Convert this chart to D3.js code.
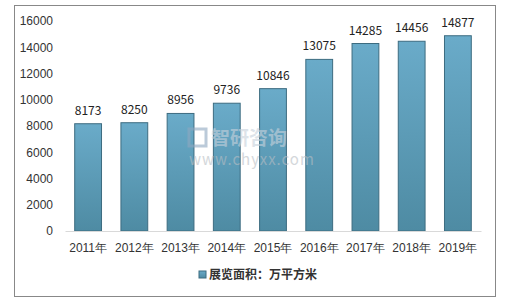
<!DOCTYPE html>
<meta charset="utf-8">
<style>
  body { margin: 0; background: #fff; }
  svg { display: block; font-family: "Microsoft YaHei", "Noto Sans CJK SC", sans-serif; }
  .axis text { fill: #333; font-size: 12px; }
</style>
<body></body>
<script src="https://d3js.org/d3.v7.min.js"></script>
<script>

var years = ["2011年", "2012年", "2013年", "2014年", "2015年", "2016年", "2017年", "2018年", "2019年"];
var area = [8173, 8250, 8956, 9736, 10846, 13075, 14285, 14456, 14877];
var yTicks = [0, 2000, 4000, 6000, 8000, 10000, 12000, 14000, 16000];
var seriesName = "展览面积：万平方米";

var W = 507, H = 302;
var margin = {top: 21, right: 26, bottom: 71, left: 65};
var width = W - margin.left - margin.right,
    height = H - margin.top - margin.bottom;

var svg = d3.select("body").append("svg")
    .attr("width", W)
    .attr("height", H);

// outer frame
svg.append("rect")
    .attr("x", 14.5).attr("y", 5.5)
    .attr("width", 481).attr("height", 291)
    .attr("fill", "#fff")
    .attr("stroke", "#888");

var defs = svg.append("defs");
var grad = defs.append("linearGradient")
    .attr("id", "barGrad")
    .attr("x1", 0).attr("y1", 0).attr("x2", 0).attr("y2", 1);
grad.append("stop").attr("offset", "0%").attr("stop-color", "#6aabc9");
grad.append("stop").attr("offset", "100%").attr("stop-color", "#4e8ba3");

var g = svg.append("g")
    .attr("transform", "translate(" + margin.left + "," + margin.top + ")");

var xScale = d3.scaleBand()
    .domain(years)
    .range([0, width])
    .paddingInner(0.42)
    .paddingOuter(0.21);

var yScale = d3.scaleLinear()
    .domain([0, 16000])
    .range([height, 0]);

// y axis labels (no line)
var yAxis = g.append("g")
    .attr("class", "axis")
    .call(d3.axisLeft(yScale).tickValues(yTicks).tickFormat(d3.format("d")).tickSize(0).tickPadding(12));
yAxis.select(".domain").remove();

// bars
g.selectAll(".bar")
    .data(area)
    .enter().append("rect")
    .attr("class", "bar")
    .attr("x", function(d, i) { return xScale(years[i]); })
    .attr("y", function(d) { return yScale(d); })
    .attr("width", xScale.bandwidth())
    .attr("height", function(d) { return height - yScale(d); })
    .attr("fill", "url(#barGrad)")
    .attr("stroke", "#3d6c80")
    .attr("stroke-width", 1);

// value labels
g.selectAll(".val")
    .data(area)
    .enter().append("text")
    .attr("class", "val")
    .attr("x", function(d, i) { return xScale(years[i]) + xScale.bandwidth() / 2; })
    .attr("y", function(d) { return yScale(d) - 9; })
    .attr("text-anchor", "middle")
    .attr("fill", "#222")
    .style("font-size", "12px")
    .text(function(d) { return d; });

// x axis
var xAxis = g.append("g")
    .attr("class", "axis")
    .attr("transform", "translate(0," + height + ")")
    .call(d3.axisBottom(xScale).tickSize(0).tickPadding(12));
xAxis.select(".domain").attr("stroke", "#d9d9d9");

// watermark on top
var wm = svg.append("g").attr("opacity", 0.6);
wm.append("rect")
    .attr("x", 189).attr("y", 129)
    .attr("width", 17).attr("height", 17)
    .attr("fill", "none").attr("stroke", "#8fa8c0").attr("stroke-width", 3);
wm.append("text")
    .attr("x", 211).attr("y", 145)
    .attr("fill", "#c8d2dc")
    .style("font-size", "19px").style("font-weight", "bold")
    .text("智研咨询");
wm.append("text")
    .attr("x", 189).attr("y", 165)
    .attr("fill", "#b8bec4")
    .style("font-size", "15px").style("letter-spacing", "1px")
    .text("www.chyxx.com");

// legend
var leg = svg.append("g").attr("transform", "translate(199,270)");
leg.append("rect")
    .attr("width", 7).attr("height", 7).attr("y", 1)
    .attr("fill", "url(#barGrad)").attr("stroke", "#3d6c80");
leg.append("text")
    .attr("x", 10).attr("y", 9)
    .attr("fill", "#333")
    .style("font-size", "12px")
    .style("font-weight", "bold")
    .text(seriesName);

</script>
